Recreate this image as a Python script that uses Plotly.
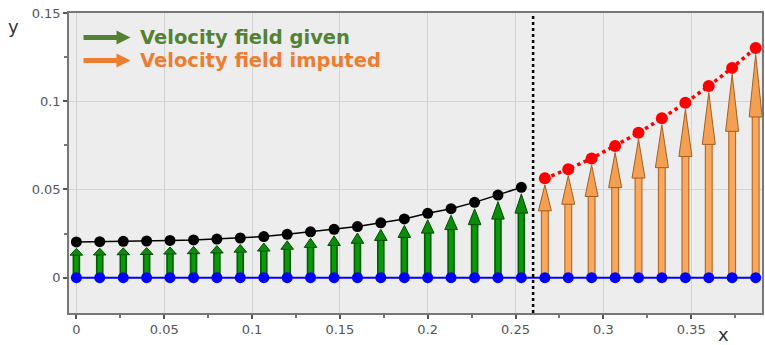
import plotly.graph_objects as go

# ---------------- data ----------------
x_given = [0.0, 0.0133, 0.0267, 0.04, 0.0533, 0.0667, 0.08, 0.0933, 0.1067, 0.12,
           0.1333, 0.1467, 0.16, 0.1733, 0.1867, 0.2, 0.2133, 0.2267, 0.24, 0.2533]
y_given = [0.0203, 0.0204, 0.0206, 0.0208, 0.0211, 0.0214, 0.0219, 0.0225, 0.0233, 0.0246,
           0.0260, 0.0274, 0.0290, 0.0311, 0.0333, 0.0365, 0.0391, 0.0427, 0.0468, 0.0512]
x_imputed = [0.2667, 0.28, 0.2933, 0.3067, 0.32, 0.3333, 0.3467, 0.36, 0.3733, 0.3867]
y_imputed = [0.0563, 0.0615, 0.0676, 0.0746, 0.0821, 0.0903, 0.0991, 0.1086, 0.1189, 0.1302]
x_all = x_given + x_imputed
y_base = [0.0] * len(x_all)
boundary_x = 0.26

x_ticks = [0, 0.05, 0.1, 0.15, 0.2, 0.25, 0.3, 0.35]
x_ticklabels = ["0", "0.05", "0.1", "0.15", "0.2", "0.25", "0.3", "0.35"]
y_ticks = [0, 0.05, 0.1, 0.15]
y_ticklabels = ["0", "0.05", "0.1", "0.15"]
legend_labels = ["Velocity field given", "Velocity field imputed"]

# ---------------- layout constants ----------------
W, H = 765, 345
M_L, M_R, M_T, M_B = 69, 1, 13, 32
X_RANGE = [-0.0042, 0.3903]
Y_RANGE = [-0.02, 0.15]
plot_h = H - M_T - M_B
plot_w = W - M_L - M_R
data_per_px = (Y_RANGE[1] - Y_RANGE[0]) / plot_h

GREEN_TXT = "#548235"
ORANGE_TXT = "#ED7D31"

fig = go.Figure()

shapes = []


def add_arrow(xv, yv, shaft_hw, inner_hw, head_hw, head_frac, outer, inner, head_fill, head_line):
    tip = yv - 6.5 * data_per_px
    base = tip - head_frac * tip
    common = dict(xref="x", yref="y", xsizemode="pixel", xanchor=xv, layer="between")
    shapes.append(dict(type="rect", x0=-shaft_hw, x1=shaft_hw, y0=0, y1=base + 1 * data_per_px,
                       fillcolor=outer, line=dict(width=0), **common))
    shapes.append(dict(type="rect", x0=-inner_hw, x1=inner_hw, y0=0, y1=base,
                       fillcolor=inner, line=dict(width=0), **common))
    shapes.append(dict(type="path",
                       path=f"M {-head_hw},{base} L {head_hw},{base} L 0,{tip} Z",
                       fillcolor=head_fill, line=dict(color=head_line, width=1), **common))


for xv, yv in zip(x_given, y_given):
    add_arrow(xv, yv, 3.8, 2.2, 6.3, 0.23, "#005e00", "#0a990a", "#0b8c0b", "#004d00")
for xv, yv in zip(x_imputed, y_imputed):
    add_arrow(xv, yv, 4.0, 2.8, 6.5, 0.28, "#b86b2c", "#f9a95e", "#f4a052", "#a65e22")

# vertical boundary line
shapes.append(dict(type="line", xref="x", yref="paper", x0=boundary_x, x1=boundary_x, y0=0, y1=1,
                   line=dict(color="black", width=2.5, dash="dot"), layer="above"))


# legend arrows (pixel offsets from the top-left corner of the plot area)
def legend_arrow(cy, color):
    return dict(type="path", xref="paper", yref="paper", xsizemode="pixel", ysizemode="pixel",
                xanchor=0, yanchor=1,
                path=(f"M 14.5,{cy + 2.5} L 47.5,{cy + 2.5} L 47.5,{cy + 7} L 61.5,{cy} "
                      f"L 47.5,{cy - 7} L 47.5,{cy - 2.5} L 14.5,{cy - 2.5} Z"),
                fillcolor=color, line=dict(width=0), layer="above")


shapes.append(legend_arrow(-24.5, GREEN_TXT))
shapes.append(legend_arrow(-47.5, ORANGE_TXT))

# ---------------- traces ----------------
fig.add_trace(go.Scatter(x=x_all, y=y_base, mode="lines+markers",
                         line=dict(color="#0000FF", width=2),
                         marker=dict(color="#0000FF", size=11), showlegend=False))
fig.add_trace(go.Scatter(x=x_given, y=y_given, mode="lines+markers",
                         line=dict(color="black", width=1.5),
                         marker=dict(color="black", size=11), showlegend=False))
fig.add_trace(go.Scatter(x=x_imputed, y=y_imputed, mode="lines+markers",
                         line=dict(color="#FF0000", width=3.5, dash="3.5px,3.5px"),
                         marker=dict(color="#FF0000", size=12), showlegend=False))

annotations = [
    dict(text=legend_labels[0], xref="paper", yref="paper", x=(138.5 - M_L) / plot_w,
         y=1 - (37.5 - M_T) / plot_h, xanchor="left", yanchor="middle", showarrow=False,
         font=dict(family="DejaVu Sans", size=19.5, color=GREEN_TXT, weight="bold")),
    dict(text=legend_labels[1], xref="paper", yref="paper", x=(138.5 - M_L) / plot_w,
         y=1 - (60.5 - M_T) / plot_h, xanchor="left", yanchor="middle", showarrow=False,
         font=dict(family="DejaVu Sans", size=19.5, color=ORANGE_TXT, weight="bold")),
    dict(text="y", xref="paper", yref="paper", x=(13 - M_L) / plot_w,
         y=1 - (26 - M_T) / plot_h, xanchor="center", yanchor="middle", showarrow=False,
         font=dict(family="DejaVu Sans", size=18, color="#333333")),
    dict(text="x", xref="paper", yref="paper", x=(725 - M_L) / plot_w,
         y=1 - (334 - M_T) / plot_h, xanchor="center", yanchor="middle", showarrow=False,
         font=dict(family="DejaVu Sans", size=18, color="#333333")),
]

fig.update_layout(
    width=W, height=H,
    margin=dict(l=M_L, r=M_R, t=M_T, b=M_B),
    paper_bgcolor="white", plot_bgcolor="#EDEDED",
    showlegend=False,
    shapes=shapes,
    annotations=annotations,
    xaxis=dict(range=X_RANGE, tickvals=x_ticks, ticktext=x_ticklabels,
               showgrid=True, gridcolor="#D2D2D2", gridwidth=1, zeroline=False,
               showline=True, linecolor="#777777", linewidth=1.5, mirror=True,
               ticks="outside", ticklen=4, tickcolor="#555555", tickwidth=1.5,
               tickfont=dict(family="DejaVu Sans", size=13, color="#555555"),
               minor=dict(dtick=0.025, tick0=0, ticks="outside", ticklen=3,
                          tickcolor="#777777", showgrid=False)),
    yaxis=dict(range=Y_RANGE, tickvals=y_ticks, ticktext=y_ticklabels,
               showgrid=True, gridcolor="#D2D2D2", gridwidth=1, zeroline=False,
               showline=True, linecolor="#777777", linewidth=1.5, mirror=True,
               ticks="outside", ticklen=4, tickcolor="#555555", tickwidth=1.5,
               tickfont=dict(family="DejaVu Sans", size=13, color="#555555"),
               minor=dict(dtick=0.025, tick0=0, ticks="outside", ticklen=3,
                          tickcolor="#777777", showgrid=False)),
)

fig.write_html("out.html")
